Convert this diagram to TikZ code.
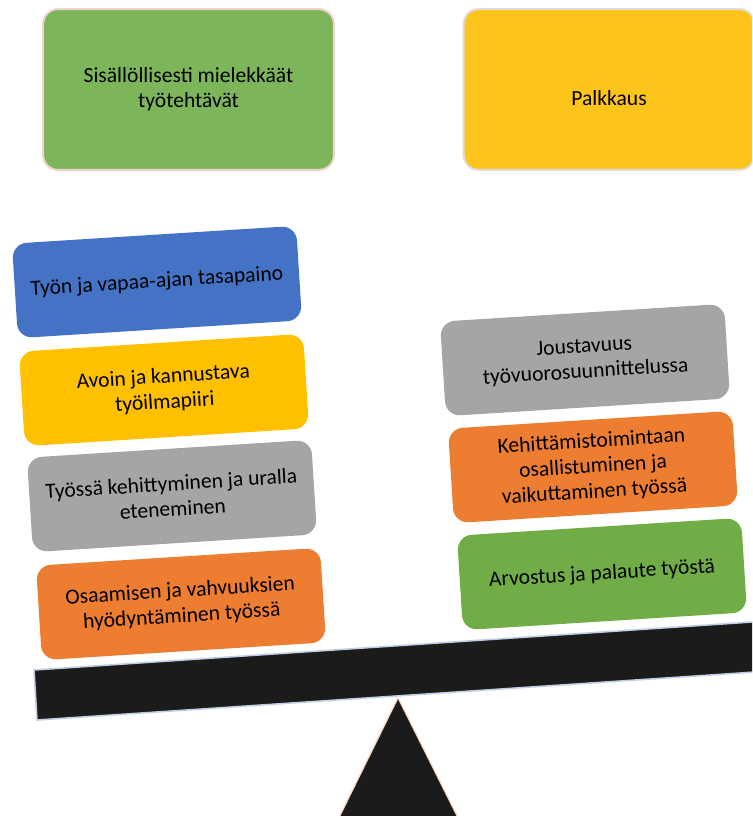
\documentclass[tikz,border=0pt]{standalone}
\usepackage{fontspec}
\setmainfont{Carlito}
\definecolor{cblue}{HTML}{4472C4}
\definecolor{cyellow}{HTML}{FFC000}
\definecolor{cgray}{HTML}{A5A5A5}
\definecolor{corange}{HTML}{ED7D31}
\definecolor{cgreen}{HTML}{70AD47}
\definecolor{topgreen}{HTML}{7DB55B}
\definecolor{topyellow}{HTML}{FDC51C}
\definecolor{pinkline}{HTML}{F2D3CB}
\definecolor{grayline}{HTML}{DDDDDD}
\definecolor{beam}{HTML}{1B1B1B}
\definecolor{beamline}{HTML}{C3CDE6}
\definecolor{peach}{HTML}{F8D3B5}
\begin{document}
\begin{tikzpicture}[x=0.75pt,y=-0.75pt,
  box/.style={rounded corners=11pt, align=center, font=\fontsize{16.2}{19}\selectfont, text=black, inner sep=2pt},
  topbox/.style={box, minimum width=218pt, minimum height=120.5pt, line width=1.5pt},
  tilted/.style={box, rotate=3.6, minimum width=213.5pt, minimum height=71pt}]
\useasboundingbox (0,0) rectangle (752,816);
\clip (0,0) rectangle (752,816);
% top boxes
\node[topbox, fill=topgreen, draw=pinkline] (tasks) at (188.5,89.5) {Sisällöllisesti mielekkäät\\työtehtävät};
\node[topbox, fill=topyellow, draw=grayline] (pay) at (609,89.5) {};
\node[box] (paytext) at (609,98) {Palkkaus};
% left stack
\node[tilted, fill=cblue] (l1) at (157,282) {Työn ja vapaa-ajan tasapaino};
\node[tilted, fill=cyellow] (l2) at (164,390) {Avoin ja kannustava\\työilmapiiri};
\node[tilted, fill=cgray] (l3) at (172,496) {Työssä kehittyminen ja uralla\\eteneminen};
\node[tilted, fill=corange] (l4) at (181,604) {Osaamisen ja vahvuuksien\\hyödyntäminen työssä};
% right stack
\node[tilted, fill=cgray] (r1) at (585,360) {Joustavuus\\työvuorosuunnittelussa};
\node[tilted, fill=corange] (r2) at (593,467) {Kehittämistoimintaan\\osallistuminen ja\\vaikuttaminen työssä};
\node[tilted, fill=cgreen] (r3) at (602,574) {Arvostus ja palaute työstä};
% beam
\draw[fill=beam, draw=beamline, line width=1.2pt] (34,670) -- (770,620.8) -- (773.5,670.8) -- (37,720) -- cycle;
% fulcrum
\draw[fill=beam, draw=peach, line width=0.8pt] (398,698) -- (465,832) -- (332,832) -- cycle;
\end{tikzpicture}
\end{document}
